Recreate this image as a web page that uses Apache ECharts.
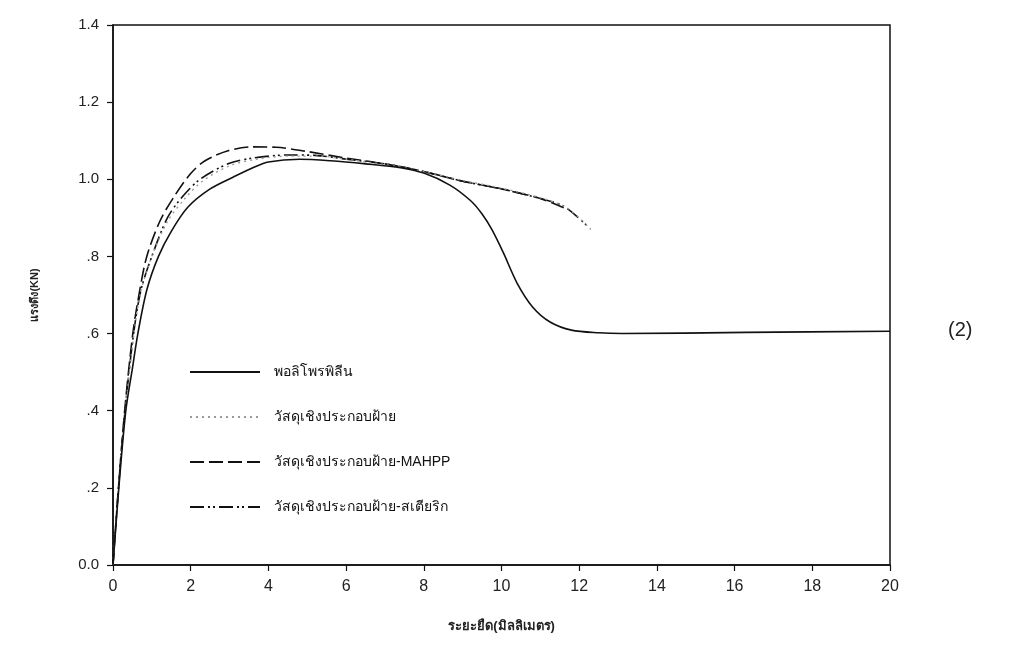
<!DOCTYPE html>
<html>
<head>
<meta charset="utf-8">
<script src="https://cdn.jsdelivr.net/npm/echarts@6/dist/echarts.min.js"></script>
<style>
  html, body { margin: 0; padding: 0; background: #fff; }
  #chart { width: 1015px; height: 656px; }
</style>
</head>
<body>
<div id="chart"></div>
<script>
// Tensile force vs. elongation for polypropylene and its cotton composites
const seriesNames = [
  'พอลิโพรพิลีน',
  'วัสดุเชิงประกอบฝ้าย',
  'วัสดุเชิงประกอบฝ้าย-MAHPP',
  'วัสดุเชิงประกอบฝ้าย-สเตียริก'
];

// Polypropylene (solid)
const ppX = [0, 0.15, 0.33, 0.5, 0.64, 0.87, 1.17, 1.5, 1.93, 2.5, 3.1, 3.6, 4.0, 4.8, 5.6, 6.5, 7.4, 8.0, 8.67, 9.2, 9.5, 9.75, 10.05, 10.4, 10.8, 11.25, 11.8, 12.5, 13.1, 16.3, 20];
const ppY = [0, 0.2, 0.4, 0.51, 0.6, 0.713, 0.8, 0.865, 0.928, 0.975, 1.006, 1.03, 1.045, 1.052, 1.048, 1.04, 1.03, 1.016, 0.985, 0.945, 0.91, 0.87, 0.809, 0.731, 0.669, 0.63, 0.609, 0.602, 0.6, 0.603, 0.606];

// Cotton composite (dotted)
const cottonX = [0, 0.14, 0.32, 0.54, 0.72, 1.0, 1.4, 1.85, 2.3, 3.0, 3.7, 4.5, 5.3, 6, 7, 8, 9, 10, 11, 11.7, 12.3];
const cottonY = [0, 0.2, 0.4, 0.6, 0.71, 0.8, 0.89, 0.95, 0.995, 1.035, 1.052, 1.06, 1.06, 1.052, 1.038, 1.02, 0.997, 0.977, 0.952, 0.925, 0.87];

// Cotton composite with MAHPP (long dashes)
const mahppX = [0, 0.14, 0.3, 0.51, 0.69, 0.87, 1.2, 1.54, 2.0, 2.37, 2.96, 3.6, 4.2, 5.0, 6.0, 7.0, 8.0, 9.0, 10.0, 11.0, 11.6];
const mahppY = [0, 0.2, 0.4, 0.6, 0.713, 0.8, 0.89, 0.95, 1.015, 1.048, 1.074, 1.084, 1.083, 1.072, 1.055, 1.04, 1.02, 0.995, 0.975, 0.95, 0.926];

// Cotton composite with stearic acid (dash-dot-dot)
const stearicX = [0, 0.14, 0.31, 0.53, 0.72, 1.0, 1.4, 1.78, 2.24, 2.96, 3.6, 4.5, 5.2, 6, 7, 8, 9, 10, 11, 11.6, 12.2];
const stearicY = [0, 0.2, 0.4, 0.6, 0.713, 0.8, 0.9, 0.954, 1.0, 1.04, 1.055, 1.063, 1.062, 1.052, 1.04, 1.02, 0.995, 0.975, 0.95, 0.93, 0.88];

const xTicks = [0, 2, 4, 6, 8, 10, 12, 14, 16, 18, 20];
const yTickLabels = ['0.0', '.2', '.4', '.6', '.8', '1.0', '1.2', '1.4'];

const pairs = (xs, ys) => xs.map((x, i) => [x, ys[i]]);

const lineStyles = [
  { color: '#111', width: 1.6, type: 'solid' },
  { color: '#9a9a9a', width: 1.4, type: [2, 4] },
  { color: '#111', width: 1.6, type: [14, 5] },
  { color: '#111', width: 1.6, type: [14, 4, 2, 3, 2, 4] }
];
const dataSets = [pairs(ppX, ppY), pairs(cottonX, cottonY), pairs(mahppX, mahppY), pairs(stearicX, stearicY)];

const font = '"Liberation Sans", Arial, "Noto Sans", sans-serif';

const chart = echarts.init(document.getElementById('chart'), null, { renderer: 'canvas' });
chart.setOption({
  backgroundColor: '#fff',
  animation: false,
  grid: {
    left: 113, right: 125, top: 25, bottom: 91,
    show: true, borderColor: '#111', borderWidth: 1.5, backgroundColor: 'transparent'
  },
  legend: {
    orient: 'vertical',
    left: 184, top: 360,
    itemWidth: 70, itemHeight: 14, itemGap: 31,
    data: seriesNames,
    itemStyle: { color: 'transparent', borderColor: 'transparent', borderWidth: 0 },
    textStyle: { fontFamily: font, fontSize: 14, color: '#111', padding: [0, 0, 0, 9] }
  },
  xAxis: {
    type: 'value', min: 0, max: 20, interval: 2,
    axisLine: { show: true, lineStyle: { color: '#111', width: 1.5 } },
    axisTick: { show: true, inside: false, length: 6, lineStyle: { color: '#111', width: 1.2 } },
    splitLine: { show: false },
    axisLabel: {
      margin: 14, fontFamily: font, fontSize: 16, color: '#222',
      formatter: v => (xTicks.indexOf(v) >= 0 ? String(v) : '')
    },
    name: 'ระยะยืด(มิลลิเมตร)', nameLocation: 'middle', nameGap: 55,
    nameTextStyle: { fontFamily: font, fontSize: 13, color: '#222', fontWeight: 'bold' }
  },
  yAxis: {
    type: 'value', min: 0, max: 1.4, interval: 0.2,
    axisLine: { show: true, lineStyle: { color: '#111', width: 1.5 } },
    axisTick: { show: true, inside: false, length: 6, lineStyle: { color: '#111', width: 1.2 } },
    splitLine: { show: false },
    axisLabel: {
      margin: 14, fontFamily: font, fontSize: 15, color: '#222',
      formatter: v => yTickLabels[Math.round(v / 0.2)] || ''
    },
    name: 'แรงดึง(KN)', nameLocation: 'middle', nameGap: 73, nameRotate: 90,
    nameTextStyle: { fontFamily: font, fontSize: 11, color: '#222', fontWeight: 'bold' }
  },
  graphic: [{
    type: 'text', left: 948, top: 320,
    style: { text: '(2)', font: '20px ' + font, fill: '#222' }
  }],
  series: seriesNames.map((name, i) => ({
    name,
    type: 'line',
    data: dataSets[i],
    symbol: 'none',
    smooth: 0.3,
    lineStyle: lineStyles[i],
    itemStyle: { color: lineStyles[i].color },
    z: 4 - i
  }))
});
</script>
</body>
</html>
